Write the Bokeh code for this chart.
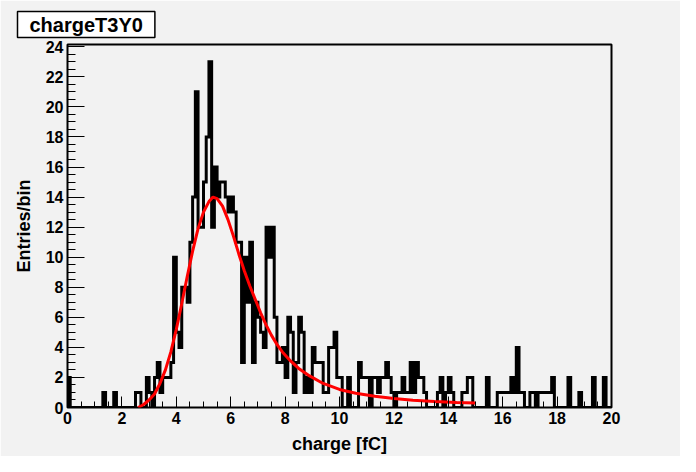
from bokeh.plotting import figure
from bokeh.models import Range1d, SingleIntervalTicker
from bokeh.embed import file_html
from bokeh.resources import INLINE

# ---- data -------------------------------------------------------------
hist_title = "chargeT3Y0"
x_label = "charge [fC]"
y_label = "Entries/bin"
x_min, x_max, n_bins = 0.0, 20.0, 200

counts = [
    2, 0, 0, 0, 0, 0, 0, 0, 0, 0,      # 0.0 - 1.0
    0, 0, 0, 1, 0, 0, 0, 1, 0, 0,      # 1.0 - 2.0
    0, 0, 0, 0, 0, 1, 1, 0, 0, 2,      # 2.0 - 3.0
    1, 0, 2, 3, 1, 2, 2, 2, 3, 10,     # 3.0 - 4.0
    5, 4, 8, 8, 7, 11, 14, 21, 12, 12, # 4.0 - 5.0
    15, 18, 23, 12, 16, 14, 15, 15, 14, 13,  # 5.0 - 6.0
    14, 13, 11, 11, 3, 10, 7, 11, 3, 7,      # 6.0 - 7.0
    6, 5, 4, 12, 10, 12, 6, 3, 3, 4,         # 7.0 - 8.0
    2, 6, 5, 1, 3, 6, 5, 1, 2, 1,            # 8.0 - 9.0
    4, 3, 3, 3, 1, 1, 4, 4, 5, 2,            # 9.0 - 10.0
    2, 0, 0, 2, 0, 0, 0, 3, 2, 2,            # 10.0 - 11.0
    2, 0, 2, 2, 1, 2, 2, 3, 2, 1,            # 11.0 - 12.0
    0, 1, 1, 2, 1, 1, 3, 1, 3, 2,            # 12.0 - 13.0
    2, 1, 0, 0, 0, 0, 1, 2, 0, 1,            # 13.0 - 14.0
    2, 1, 0, 0, 0, 1, 1, 2, 2, 0,            # 14.0 - 15.0
    0, 0, 0, 0, 2, 0, 0, 0, 1, 1,            # 15.0 - 16.0
    1, 1, 1, 2, 1, 4, 1, 1, 0, 0,            # 16.0 - 17.0
    1, 1, 0, 1, 1, 1, 1, 1, 2, 0,            # 17.0 - 18.0
    0, 0, 0, 0, 2, 0, 0, 0, 1, 0,            # 18.0 - 19.0
    0, 0, 0, 2, 0, 0, 0, 2, 0, 0,            # 19.0 - 20.0
]

fit_x = [2.6, 2.8, 3.0, 3.2, 3.4, 3.6, 3.8, 4.0, 4.2, 4.4, 4.6, 4.8, 5.0,
         5.2, 5.35, 5.5, 5.7, 5.9, 6.1, 6.3, 6.5, 6.7, 6.9, 7.1, 7.3, 7.5,
         7.7, 7.9, 8.2, 8.5, 8.9, 9.4, 10.0, 10.6, 11.3, 12.0, 12.7, 13.5,
         14.3, 15.0]
fit_y = [0.0, 0.2, 0.5, 0.9, 1.6, 2.5, 3.7, 5.2, 6.9, 8.7, 10.4, 11.9, 13.0,
         13.7, 14.0, 13.9, 13.4, 12.5, 11.4, 10.2, 9.1, 8.1, 7.2, 6.3, 5.5,
         4.8, 4.2, 3.7, 3.1, 2.6, 2.1, 1.6, 1.2, 0.95, 0.75, 0.6, 0.48, 0.4,
         0.34, 0.3]

y_top = 1.05 * max(counts)

# ---- step outline built from the bins ----------------------------------
bw = (x_max - x_min) / n_bins
sx, sy = [x_min], [0]
for i, c in enumerate(counts):
    lo = x_min + i * bw
    hi = lo + bw
    sx += [lo, hi]
    sy += [c, c]
sx.append(x_max)
sy.append(0)

BG = "#f2f2f2"
FONT = "Liberation Sans"

p = figure(width=680, height=456, output_backend="svg", toolbar_location=None,
           x_range=Range1d(x_min, x_max), y_range=Range1d(0, y_top),
           min_border_left=67, min_border_right=69,
           min_border_top=44, min_border_bottom=46)
p.background_fill_color = BG
p.border_fill_color = BG
p.outline_line_color = "black"
p.outline_line_width = 2
p.xgrid.visible = False
p.ygrid.visible = False

# title box
p.title.text = hist_title
p.title.align = "left"
p.title.offset = -50
p.title.standoff = 14
p.title.text_font = FONT
p.title.text_font_style = "bold"
p.title.text_font_size = "20px"
p.title.text_line_height = 0.9
p.title.text_color = "black"
p.title.background_fill_color = "white"
p.title.border_line_color = "black"
p.title.border_line_width = 1.5
p.title.padding = (12, 2)

p.xaxis.ticker = SingleIntervalTicker(interval=2, num_minor_ticks=4)
p.yaxis.ticker = SingleIntervalTicker(interval=2, num_minor_ticks=4)
for ax in (p.xaxis, p.yaxis):
    ax.axis_line_color = None
    ax.major_tick_out = 0
    ax.minor_tick_out = 0
    ax.major_tick_line_color = "black"
    ax.minor_tick_line_color = "black"
    ax.major_label_text_font = FONT
    ax.major_label_text_font_style = "bold"
    ax.major_label_text_font_size = "16px"
    ax.major_label_text_color = "black"
    ax.axis_label_text_font = FONT
    ax.axis_label_text_font_style = "bold"
    ax.axis_label_text_font_size = "18px"
    ax.axis_label_text_color = "black"
p.xaxis.major_tick_in = 11
p.xaxis.minor_tick_in = 6
p.yaxis.major_tick_in = 17
p.yaxis.minor_tick_in = 8
p.xaxis.major_label_standoff = 4
p.yaxis.major_label_standoff = 4
p.xaxis.axis_label_standoff = 7
p.yaxis.axis_label_standoff = 9
p.xaxis.axis_label = x_label
p.yaxis.axis_label = y_label

p.line(sx, sy, line_color="black", line_width=3, line_join="miter")
p.line(fit_x, fit_y, line_color="#ff0000", line_width=3)

open("out.html", "w").write(file_html(p, INLINE))
